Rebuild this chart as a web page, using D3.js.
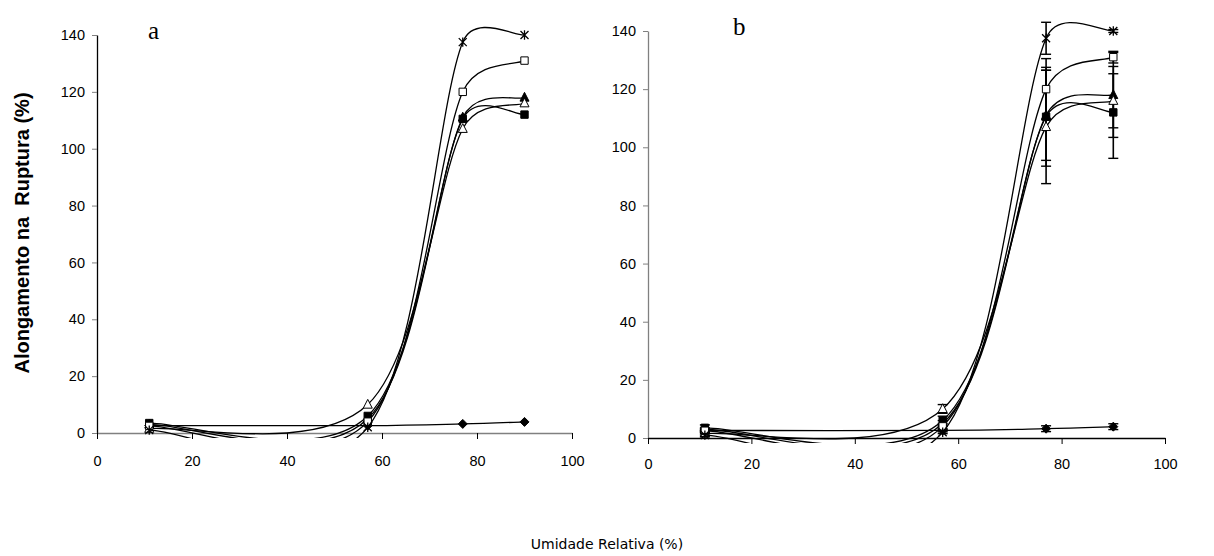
<!DOCTYPE html>
<html>
<head>
<meta charset="utf-8">
<script src="https://cdn.jsdelivr.net/npm/d3@7"></script>
<style>
  body { margin: 0; background: #fff; }
  svg { display: block; }
</style>
</head>
<body>
<svg id="chart"></svg>
<script>
// relative humidity (%) where films were measured
const umidade = [11, 57, 77, 90];
const xTicks = [0, 20, 40, 60, 80, 100];
const yTicks = [0, 20, 40, 60, 80, 100, 120, 140];

// elongation at break (%) per formulation
const losango = [2.6, 2.6, 3.2, 3.9];
const quadradoCheio = [3.5, 6, 110.5, 112];
const trianguloCheio = [3, 5, 111, 118];
const trianguloVazio = [1.5, 10, 107, 116];
const quadradoVazio = [2.5, 4, 120, 131];
const estrela = [1, 2, 137.5, 140];

// standard deviations (panel b)
const dpLosango = [0.5, 0.5, 1, 1];
const dpQuadradoCheio = [1, 1.5, 17, 15.8];
const dpTrianguloCheio = [0.5, 1, 15.5, 14.6];
const dpTrianguloVazio = [0.5, 1.5, 19.5, 9.3];
const dpQuadradoVazio = [0.5, 1, 10.5, 2];
const dpEstrela = [0.5, 0.5, 5.5, 0.5];

const series = [
  {vals: losango, err: dpLosango, mark: 'diamond'},
  {vals: quadradoCheio, err: dpQuadradoCheio, mark: 'squareFill'},
  {vals: trianguloCheio, err: dpTrianguloCheio, mark: 'triFill'},
  {vals: trianguloVazio, err: dpTrianguloVazio, mark: 'triOpen'},
  {vals: quadradoVazio, err: dpQuadradoVazio, mark: 'squareOpen'},
  {vals: estrela, err: dpEstrela, mark: 'star'}
];

const svg = d3.select('#chart').attr('width', 1214).attr('height', 556);

// Excel-like smoothed line (bezier, tangent capped at half the segment)
function excelSmooth(pts) {
  const p = d3.path();
  p.moveTo(pts[0][0], pts[0][1]);
  for (let i = 0; i < pts.length - 1; i++) {
    const p0 = pts[Math.max(i - 1, 0)], p1 = pts[i], p2 = pts[i + 1];
    const p3 = pts[Math.min(i + 2, pts.length - 1)];
    const d12 = Math.hypot(p2[0] - p1[0], p2[1] - p1[1]);
    const d02 = Math.hypot(p2[0] - p0[0], p2[1] - p0[1]);
    const d13 = Math.hypot(p3[0] - p1[0], p3[1] - p1[1]);
    let f1 = 1 / 6, f2 = 1 / 6;
    if (d02 / 6 > d12 / 2) f1 = d12 / (2 * d02);
    if (d13 / 6 > d12 / 2) f2 = d12 / (2 * d13);
    p.bezierCurveTo(
      p1[0] + f1 * (p2[0] - p0[0]), p1[1] + f1 * (p2[1] - p0[1]),
      p2[0] - f2 * (p3[0] - p1[0]), p2[1] - f2 * (p3[1] - p1[1]),
      p2[0], p2[1]);
  }
  return p.toString();
}

function markerPath(kind) {
  switch (kind) {
    case 'diamond': return 'M0,-4.5L4.5,0L0,4.5L-4.5,0Z';
    case 'squareFill':
    case 'squareOpen': return 'M-3.7,-3.7H3.7V3.7H-3.7Z';
    case 'triFill':
    case 'triOpen': return 'M0,-5.2L4.5,3.6H-4.5Z';
    case 'star': return 'M-4,-4L4,4M-4,4L4,-4M0,-4.7V4.7';
  }
}

function drawPanel(cfg) {
  const x = d3.scaleLinear().domain([0, 100]).range([cfg.left, cfg.right]);
  const y = d3.scaleLinear().domain([0, 140]).range([cfg.bottom, cfg.top]);

  const g = svg.append('g');

  // axes
  const yAxis = g.append('g')
    .attr('transform', `translate(${cfg.left},0)`)
    .call(d3.axisLeft(y).tickValues(yTicks).tickSize(5).tickSizeOuter(0).tickPadding(7));
  yAxis.select('.domain').attr('stroke', cfg.yAxisColor).attr('stroke-width', 1.3);
  yAxis.selectAll('.tick line').attr('stroke', '#808080');

  const xAxis = g.append('g')
    .attr('transform', `translate(0,${cfg.bottom})`)
    .call(d3.axisBottom(x).tickValues(xTicks).tickSize(6).tickSizeOuter(0).tickPadding(cfg.xPad));
  xAxis.select('.domain').attr('stroke', cfg.xAxisColor).attr('stroke-width', 1.3);
  xAxis.selectAll('.tick line').attr('stroke', '#000');

  g.selectAll('.tick text')
    .attr('font-family', 'Liberation Sans, Arial, sans-serif')
    .attr('font-size', 14.5)
    .attr('fill', '#000');

  // panel letter
  g.append('text')
    .attr('x', cfg.labelX).attr('y', cfg.labelY)
    .attr('font-family', 'Liberation Serif, Times New Roman, serif')
    .attr('font-size', 25)
    .text(cfg.label);

  const clipId = 'clip-' + cfg.label;
  svg.append('clipPath').attr('id', clipId)
    .append('rect')
      .attr('x', cfg.left).attr('y', 0)
      .attr('width', cfg.right - cfg.left).attr('height', cfg.bottom + 5);

  const plot = g.append('g');

  series.forEach(s => {
    const pts = umidade.map((u, i) => [x(u), y(s.vals[i])]);

    plot.append('path')
      .attr('clip-path', `url(#${clipId})`)
      .attr('d', excelSmooth(pts))
      .attr('fill', 'none')
      .attr('stroke', '#000')
      .attr('stroke-width', 1.3);

    if (cfg.errors) {
      umidade.forEach((u, i) => {
        const lo = y(s.vals[i] - s.err[i]), hi = y(s.vals[i] + s.err[i]);
        plot.append('line')
          .attr('x1', x(u)).attr('x2', x(u)).attr('y1', lo).attr('y2', hi)
          .attr('stroke', '#000').attr('stroke-width', 1.6);
        [lo, hi].forEach(v => {
          plot.append('line')
            .attr('x1', x(u) - 5).attr('x2', x(u) + 5).attr('y1', v).attr('y2', v)
            .attr('stroke', '#000').attr('stroke-width', 1.4);
        });
      });
    }

    const open = s.mark === 'triOpen' || s.mark === 'squareOpen';
    plot.selectAll(null)
      .data(pts)
      .enter()
      .append('path')
        .attr('transform', d => `translate(${d[0]},${d[1]})`)
        .attr('d', markerPath(s.mark))
        .attr('fill', s.mark === 'star' ? 'none' : (open ? '#fff' : '#000'))
        .attr('stroke', '#000')
        .attr('stroke-width', s.mark === 'star' ? 1.3 : 1);
  });
}

drawPanel({left: 97, right: 572, top: 35, bottom: 433, xPad: 17,
  yAxisColor: '#000', xAxisColor: '#808080', label: 'a', labelX: 148, labelY: 39, errors: false});
drawPanel({left: 648, right: 1165, top: 31, bottom: 438, xPad: 15,
  yAxisColor: '#808080', xAxisColor: '#000', label: 'b', labelX: 733, labelY: 35, errors: true});

// y axis title
svg.append('text')
  .attr('transform', 'translate(29,233) rotate(-90)')
  .attr('text-anchor', 'middle')
  .attr('font-family', 'Liberation Sans, Arial, sans-serif')
  .attr('font-weight', 'bold')
  .attr('font-size', 20)
  .style('white-space', 'pre')
  .text('Alongamento na  Ruptura (%)');

// x axis title
svg.append('text')
  .attr('x', 607).attr('y', 549)
  .attr('text-anchor', 'middle')
  .attr('font-family', 'DejaVu Sans, sans-serif')
  .attr('font-size', 14)
  .text('Umidade Relativa (%)');
</script>
</body>
</html>
